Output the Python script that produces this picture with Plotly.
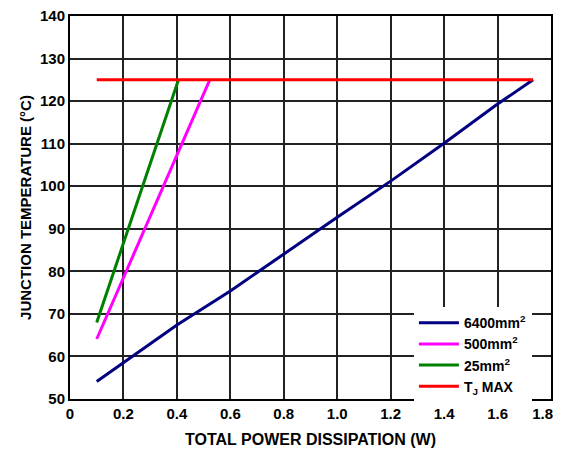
import plotly.graph_objects as go

# data
p_6400 = [0.10, 0.40, 0.60, 0.80, 1.00, 1.20, 1.40, 1.60, 1.733]
t_6400 = [54.1, 67.4, 75.4, 84.1, 92.7, 101.2, 110.1, 119.3, 125]
p_500 = [0.10, 0.523]
t_500 = [64.1, 125]
p_25 = [0.10, 0.406]
t_25 = [68.0, 125]
p_tj = [0.10, 1.733]
t_tj = [125, 125]

x_ticks = [0, 0.2, 0.4, 0.6, 0.8, 1.0, 1.2, 1.4, 1.6, 1.8]
x_labels = ["0", "0.2", "0.4", "0.6", "0.8", "1.0", "1.2", "1.4", "1.6", "1.8"]
y_ticks = [50, 60, 70, 80, 90, 100, 110, 120, 130, 140]
y_labels = [str(v) for v in y_ticks]

font_fam = "Liberation Sans, Arial, sans-serif"

# last x label would be clipped at the page edge: pad it so it sits a bit left
x_text = [f"<b>{t}</b>" for t in x_labels]
x_text[-1] = "<b>1.8</b>" + "\u00a0" * 4

fig = go.Figure()
fig.add_trace(go.Scatter(x=p_6400, y=t_6400, mode="lines", name="<b>6400mm<sup>2</sup></b>",
                         line=dict(color="#000080", width=3)))
fig.add_trace(go.Scatter(x=p_500, y=t_500, mode="lines", name="<b>500mm<sup>2</sup></b>",
                         line=dict(color="#ff00ff", width=3)))
fig.add_trace(go.Scatter(x=p_25, y=t_25, mode="lines", name="<b>25mm<sup>2</sup></b>",
                         line=dict(color="#008000", width=3)))
fig.add_trace(go.Scatter(x=p_tj, y=t_tj, mode="lines", name="<b>T<sub>J</sub> MAX</b>",
                         line=dict(color="#ff0000", width=3)))

fig.update_xaxes(range=[0, 1.8], tickvals=x_ticks, ticktext=x_text,
                 showgrid=True, gridcolor="#222", gridwidth=1.5,
                 showline=True, linecolor="black", linewidth=2, mirror=True,
                 zeroline=False, ticks="", automargin=False, ticklabeloverflow="allow",
                 tickfont=dict(family=font_fam, size=15, color="black"),
                 title=dict(text="<b>TOTAL POWER DISSIPATION (W)</b>", standoff=24,
                            font=dict(family=font_fam, size=16, color="black")))
fig.update_yaxes(range=[50, 140], tickvals=y_ticks, ticktext=[f"<b>{t}</b>" for t in y_labels],
                 showgrid=True, gridcolor="#222", gridwidth=1.5,
                 showline=True, linecolor="black", linewidth=2, mirror=True,
                 zeroline=False, ticks="", automargin=False, ticklabeloverflow="allow",
                 tickfont=dict(family=font_fam, size=15, color="black"),
                 title=dict(text="<b>JUNCTION TEMPERATURE (°C)</b>", standoff=5,
                            font=dict(family=font_fam, size=15, color="black")))

# page body has an 8px margin, so the figure is a bit smaller than the window
fig.update_layout(
    width=553, height=440,
    margin=dict(l=62, r=10, t=8, b=49),
    plot_bgcolor="white", paper_bgcolor="white",
    legend=dict(x=0.715, y=0.24, xanchor="left", yanchor="top",
                bgcolor="white", borderwidth=0,
                tracegroupgap=0, itemwidth=40,
                font=dict(family=font_fam, size=14, color="black")),
)

fig.write_html("out.html")
